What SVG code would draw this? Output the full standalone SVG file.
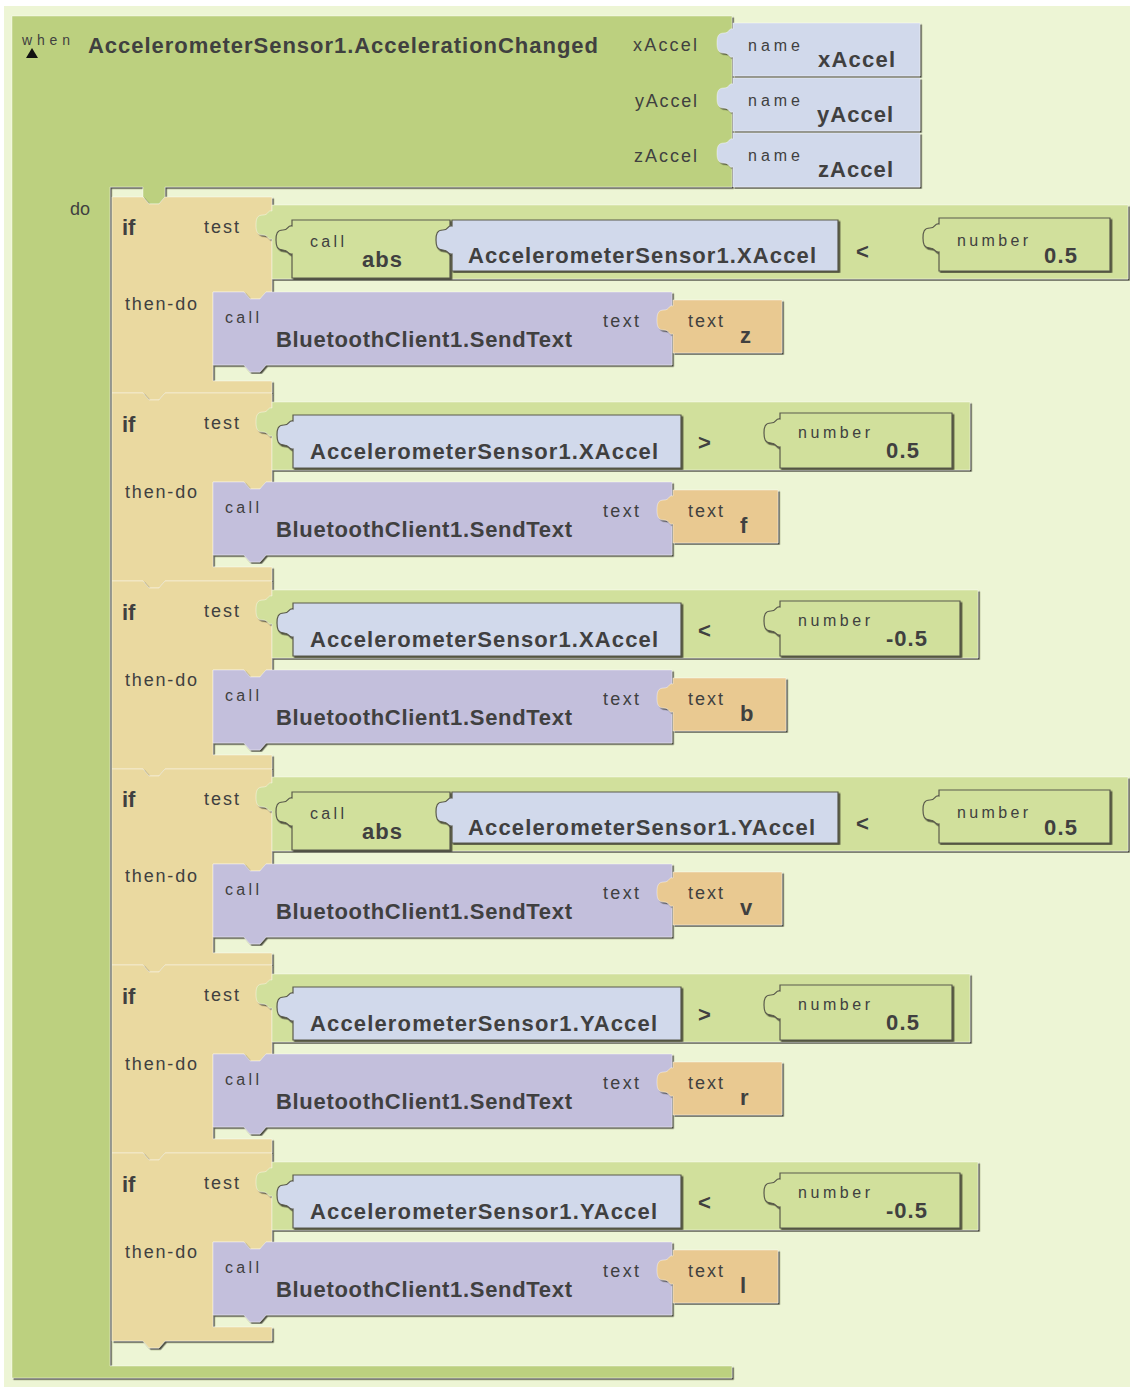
<svg xmlns="http://www.w3.org/2000/svg" width="1130" height="1387" viewBox="0 0 1130 1387">
<style>
.blk{filter:url(#sh);stroke:rgba(255,255,255,0.4);stroke-width:1}
.inr{filter:url(#sh);stroke:#5a5a4c;stroke-width:1.2}
.ev{fill:#BCD07F}.cmp{fill:#D1E09C}.tan{fill:#EAD9A0}.blue{fill:#D1D9EB}.pur{fill:#C3BFDC}.org{fill:#E9C991}
text{font-family:"Liberation Sans",Arial,sans-serif;fill:#404040}
.b{font-weight:bold;font-size:22px}
.s{font-size:16px}
.m{font-size:18px}
</style>
<defs>
<filter id="sh" x="-2%" y="-2%" width="104%" height="104%"><feDropShadow dx="1.6" dy="1.6" stdDeviation="0.4" flood-color="#2e2e26" flood-opacity="0.85"/></filter>
<path id="ifA" d="M0,0H31l6,7h10l6,-7H160V95H154l-6,7h-10l-6,-7H101V184H160V196H53l-6,7h-10l-6,-7H0z"/>
<path id="ifB" d="M0,0H31l6,7h10l6,-7H160V89H154l-6,7h-10l-6,-7H101V174H160V188H53l-6,7h-10l-6,-7H0z"/>
<path id="call" d="M0,0H31l6,7h10l6,-7H459V73H53l-6,7h-10l-6,-7H0z"/>
</defs>
<rect x="0" y="0" width="1130" height="1387" fill="#ffffff"/>
<rect x="4" y="6" width="1126" height="1381" fill="#EDF5D5"/>

<g id="event">
<path class="blk ev" d="M12,16H732V187H165v10l-6,7h-10l-6,-7v-10H110V1366H732V1378H12z"/>
<text x="22" y="45" font-size="14" textLength="48" lengthAdjust="spacing">when</text>
<polygon points="26,58 32,48 38,58" fill="#111"/>
<text class="b" x="88" y="53" textLength="510" lengthAdjust="spacing">AccelerometerSensor1.AccelerationChanged</text>
<text class="m" x="633" y="51" textLength="64" lengthAdjust="spacing">xAccel</text>
<text class="m" x="635" y="107" textLength="62" lengthAdjust="spacing">yAccel</text>
<text class="m" x="634" y="162" textLength="63" lengthAdjust="spacing">zAccel</text>
<text class="m" x="70" y="215">do</text>
</g>
<g id="name-x"><path class="blk blue" transform="translate(733,23)" d="M0,0H187V53H0V34c-5,1-3,-4-9,-4c-6,0-7,-4-7,-10c0,-6 1,-10 7,-10c6,0 4,-5 9,-4z"/>
<text class="s" x="748" y="51" textLength="52" lengthAdjust="spacing">name</text><text class="b" x="818" y="67" textLength="77" lengthAdjust="spacing">xAccel</text></g>
<g id="name-y"><path class="blk blue" transform="translate(733,78)" d="M0,0H187V53H0V34c-5,1-3,-4-9,-4c-6,0-7,-4-7,-10c0,-6 1,-10 7,-10c6,0 4,-5 9,-4z"/>
<text class="s" x="748" y="106" textLength="52" lengthAdjust="spacing">name</text><text class="b" x="817" y="122" textLength="76" lengthAdjust="spacing">yAccel</text></g>
<g id="name-z"><path class="blk blue" transform="translate(733,133)" d="M0,0H187V54H0V34c-5,1-3,-4-9,-4c-6,0-7,-4-7,-10c0,-6 1,-10 7,-10c6,0 4,-5 9,-4z"/>
<text class="s" x="748" y="161" textLength="52" lengthAdjust="spacing">name</text><text class="b" x="818" y="177" textLength="75" lengthAdjust="spacing">zAccel</text></g>

<!-- Row 1 -->
<g id="if1">
<use href="#ifA" class="blk tan" x="112" y="197"/>
<text class="b" x="122" y="235" font-size="21">if</text>
<text class="m" x="204" y="233" textLength="35" lengthAdjust="spacing">test</text>
<text class="m" x="125" y="310" textLength="72" lengthAdjust="spacing">then-do</text>
</g>
<g id="cmp1"><path class="blk cmp" transform="translate(272,205)" d="M0,0H856V74H0V34c-5,1-3,-4-9,-4c-6,0-7,-4-7,-10c0,-6 1,-10 7,-10c6,0 4,-5 9,-4z"/>
<text class="b" x="856" y="259" font-size="19">&lt;</text></g>
<g id="abs1"><path class="inr cmp" transform="translate(292,220)" d="M0,0H158V58H0V34c-5,1-3,-4-9,-4c-6,0-7,-4-7,-10c0,-6 1,-10 7,-10c6,0 4,-5 9,-4z"/>
<text class="s" x="310" y="247" textLength="34" lengthAdjust="spacing">call</text><text class="b" x="362" y="267" textLength="40" lengthAdjust="spacing">abs</text></g>
<g id="get1"><path class="inr blue" transform="translate(452,220)" d="M0,0H386V51H0V34c-5,1-3,-4-9,-4c-6,0-7,-4-7,-10c0,-6 1,-10 7,-10c6,0 4,-5 9,-4z"/>
<text class="b" x="468" y="263" textLength="348" lengthAdjust="spacing">AccelerometerSensor1.XAccel</text></g>
<g id="num1"><path class="inr cmp" transform="translate(939,218)" d="M0,0H171V53H0V34c-5,1-3,-4-9,-4c-6,0-7,-4-7,-10c0,-6 1,-10 7,-10c6,0 4,-5 9,-4z"/>
<text class="s" x="957" y="246" textLength="71" lengthAdjust="spacing">number</text><text class="b" x="1044" y="263" textLength="33" lengthAdjust="spacing">0.5</text></g>
<g id="call1"><use href="#call" class="blk pur" x="213" y="292"/>
<text class="s" x="225" y="323" textLength="34" lengthAdjust="spacing">call</text>
<text class="b" x="276" y="347" textLength="296" lengthAdjust="spacing">BluetoothClient1.SendText</text>
<text class="m" x="603" y="327" textLength="36" lengthAdjust="spacing">text</text></g>
<g id="txt1"><path class="blk org" transform="translate(673,300)" d="M0,0H109V53H0V34c-5,1-3,-4-9,-4c-6,0-7,-4-7,-10c0,-6 1,-10 7,-10c6,0 4,-5 9,-4z"/>
<text class="m" x="688" y="327" textLength="35" lengthAdjust="spacing">text</text><text class="b" x="740" y="343">z</text></g>

<!-- Row 2 -->
<g id="if2">
<use href="#ifB" class="blk tan" x="112" y="393"/>
<text class="b" x="122" y="432" font-size="21">if</text>
<text class="m" x="204" y="429" textLength="35" lengthAdjust="spacing">test</text>
<text class="m" x="125" y="498" textLength="72" lengthAdjust="spacing">then-do</text>
</g>
<g id="cmp2"><path class="blk cmp" transform="translate(272,402)" d="M0,0H698V68H0V34c-5,1-3,-4-9,-4c-6,0-7,-4-7,-10c0,-6 1,-10 7,-10c6,0 4,-5 9,-4z"/>
<text class="b" x="698" y="450" font-size="19">&gt;</text></g>
<g id="get2"><path class="inr blue" transform="translate(293,415)" d="M0,0H388V53H0V34c-5,1-3,-4-9,-4c-6,0-7,-4-7,-10c0,-6 1,-10 7,-10c6,0 4,-5 9,-4z"/>
<text class="b" x="310" y="459" textLength="348" lengthAdjust="spacing">AccelerometerSensor1.XAccel</text></g>
<g id="num2"><path class="inr cmp" transform="translate(780,413)" d="M0,0H172V55H0V34c-5,1-3,-4-9,-4c-6,0-7,-4-7,-10c0,-6 1,-10 7,-10c6,0 4,-5 9,-4z"/>
<text class="s" x="798" y="438" textLength="72" lengthAdjust="spacing">number</text><text class="b" x="886" y="458" textLength="33" lengthAdjust="spacing">0.5</text></g>
<g id="call2"><use href="#call" class="blk pur" x="213" y="482"/>
<text class="s" x="225" y="513" textLength="34" lengthAdjust="spacing">call</text>
<text class="b" x="276" y="537" textLength="296" lengthAdjust="spacing">BluetoothClient1.SendText</text>
<text class="m" x="603" y="517" textLength="36" lengthAdjust="spacing">text</text></g>
<g id="txt2"><path class="blk org" transform="translate(673,490)" d="M0,0H105V53H0V34c-5,1-3,-4-9,-4c-6,0-7,-4-7,-10c0,-6 1,-10 7,-10c6,0 4,-5 9,-4z"/>
<text class="m" x="688" y="517" textLength="35" lengthAdjust="spacing">text</text><text class="b" x="740" y="533">f</text></g>

<!-- Row 3 -->
<g id="if3">
<use href="#ifB" class="blk tan" x="112" y="581"/>
<text class="b" x="122" y="620" font-size="21">if</text>
<text class="m" x="204" y="617" textLength="35" lengthAdjust="spacing">test</text>
<text class="m" x="125" y="686" textLength="72" lengthAdjust="spacing">then-do</text>
</g>
<g id="cmp3"><path class="blk cmp" transform="translate(272,590)" d="M0,0H706V68H0V34c-5,1-3,-4-9,-4c-6,0-7,-4-7,-10c0,-6 1,-10 7,-10c6,0 4,-5 9,-4z"/>
<text class="b" x="698" y="638" font-size="19">&lt;</text></g>
<g id="get3"><path class="inr blue" transform="translate(293,603)" d="M0,0H388V53H0V34c-5,1-3,-4-9,-4c-6,0-7,-4-7,-10c0,-6 1,-10 7,-10c6,0 4,-5 9,-4z"/>
<text class="b" x="310" y="647" textLength="348" lengthAdjust="spacing">AccelerometerSensor1.XAccel</text></g>
<g id="num3"><path class="inr cmp" transform="translate(780,601)" d="M0,0H180V55H0V34c-5,1-3,-4-9,-4c-6,0-7,-4-7,-10c0,-6 1,-10 7,-10c6,0 4,-5 9,-4z"/>
<text class="s" x="798" y="626" textLength="72" lengthAdjust="spacing">number</text><text class="b" x="886" y="646" textLength="41" lengthAdjust="spacing">-0.5</text></g>
<g id="call3"><use href="#call" class="blk pur" x="213" y="670"/>
<text class="s" x="225" y="701" textLength="34" lengthAdjust="spacing">call</text>
<text class="b" x="276" y="725" textLength="296" lengthAdjust="spacing">BluetoothClient1.SendText</text>
<text class="m" x="603" y="705" textLength="36" lengthAdjust="spacing">text</text></g>
<g id="txt3"><path class="blk org" transform="translate(673,678)" d="M0,0H113V53H0V34c-5,1-3,-4-9,-4c-6,0-7,-4-7,-10c0,-6 1,-10 7,-10c6,0 4,-5 9,-4z"/>
<text class="m" x="688" y="705" textLength="35" lengthAdjust="spacing">text</text><text class="b" x="740" y="721">b</text></g>

<!-- Row 4 -->
<g id="if4">
<use href="#ifA" class="blk tan" x="112" y="769"/>
<text class="b" x="122" y="807" font-size="21">if</text>
<text class="m" x="204" y="805" textLength="35" lengthAdjust="spacing">test</text>
<text class="m" x="125" y="882" textLength="72" lengthAdjust="spacing">then-do</text>
</g>
<g id="cmp4"><path class="blk cmp" transform="translate(272,777)" d="M0,0H856V74H0V34c-5,1-3,-4-9,-4c-6,0-7,-4-7,-10c0,-6 1,-10 7,-10c6,0 4,-5 9,-4z"/>
<text class="b" x="856" y="831" font-size="19">&lt;</text></g>
<g id="abs4"><path class="inr cmp" transform="translate(292,792)" d="M0,0H158V58H0V34c-5,1-3,-4-9,-4c-6,0-7,-4-7,-10c0,-6 1,-10 7,-10c6,0 4,-5 9,-4z"/>
<text class="s" x="310" y="819" textLength="34" lengthAdjust="spacing">call</text><text class="b" x="362" y="839" textLength="40" lengthAdjust="spacing">abs</text></g>
<g id="get4"><path class="inr blue" transform="translate(452,792)" d="M0,0H386V51H0V34c-5,1-3,-4-9,-4c-6,0-7,-4-7,-10c0,-6 1,-10 7,-10c6,0 4,-5 9,-4z"/>
<text class="b" x="468" y="835" textLength="347" lengthAdjust="spacing">AccelerometerSensor1.YAccel</text></g>
<g id="num4"><path class="inr cmp" transform="translate(939,790)" d="M0,0H171V53H0V34c-5,1-3,-4-9,-4c-6,0-7,-4-7,-10c0,-6 1,-10 7,-10c6,0 4,-5 9,-4z"/>
<text class="s" x="957" y="818" textLength="71" lengthAdjust="spacing">number</text><text class="b" x="1044" y="835" textLength="33" lengthAdjust="spacing">0.5</text></g>
<g id="call4"><use href="#call" class="blk pur" x="213" y="864"/>
<text class="s" x="225" y="895" textLength="34" lengthAdjust="spacing">call</text>
<text class="b" x="276" y="919" textLength="296" lengthAdjust="spacing">BluetoothClient1.SendText</text>
<text class="m" x="603" y="899" textLength="36" lengthAdjust="spacing">text</text></g>
<g id="txt4"><path class="blk org" transform="translate(673,872)" d="M0,0H109V53H0V34c-5,1-3,-4-9,-4c-6,0-7,-4-7,-10c0,-6 1,-10 7,-10c6,0 4,-5 9,-4z"/>
<text class="m" x="688" y="899" textLength="35" lengthAdjust="spacing">text</text><text class="b" x="740" y="915">v</text></g>

<!-- Row 5 -->
<g id="if5">
<use href="#ifB" class="blk tan" x="112" y="965"/>
<text class="b" x="122" y="1004" font-size="21">if</text>
<text class="m" x="204" y="1001" textLength="35" lengthAdjust="spacing">test</text>
<text class="m" x="125" y="1070" textLength="72" lengthAdjust="spacing">then-do</text>
</g>
<g id="cmp5"><path class="blk cmp" transform="translate(272,974)" d="M0,0H698V68H0V34c-5,1-3,-4-9,-4c-6,0-7,-4-7,-10c0,-6 1,-10 7,-10c6,0 4,-5 9,-4z"/>
<text class="b" x="698" y="1022" font-size="19">&gt;</text></g>
<g id="get5"><path class="inr blue" transform="translate(293,987)" d="M0,0H388V53H0V34c-5,1-3,-4-9,-4c-6,0-7,-4-7,-10c0,-6 1,-10 7,-10c6,0 4,-5 9,-4z"/>
<text class="b" x="310" y="1031" textLength="347" lengthAdjust="spacing">AccelerometerSensor1.YAccel</text></g>
<g id="num5"><path class="inr cmp" transform="translate(780,985)" d="M0,0H172V55H0V34c-5,1-3,-4-9,-4c-6,0-7,-4-7,-10c0,-6 1,-10 7,-10c6,0 4,-5 9,-4z"/>
<text class="s" x="798" y="1010" textLength="72" lengthAdjust="spacing">number</text><text class="b" x="886" y="1030" textLength="33" lengthAdjust="spacing">0.5</text></g>
<g id="call5"><use href="#call" class="blk pur" x="213" y="1054"/>
<text class="s" x="225" y="1085" textLength="34" lengthAdjust="spacing">call</text>
<text class="b" x="276" y="1109" textLength="296" lengthAdjust="spacing">BluetoothClient1.SendText</text>
<text class="m" x="603" y="1089" textLength="36" lengthAdjust="spacing">text</text></g>
<g id="txt5"><path class="blk org" transform="translate(673,1062)" d="M0,0H109V53H0V34c-5,1-3,-4-9,-4c-6,0-7,-4-7,-10c0,-6 1,-10 7,-10c6,0 4,-5 9,-4z"/>
<text class="m" x="688" y="1089" textLength="35" lengthAdjust="spacing">text</text><text class="b" x="740" y="1105">r</text></g>

<!-- Row 6 -->
<g id="if6">
<use href="#ifB" class="blk tan" x="112" y="1153"/>
<text class="b" x="122" y="1192" font-size="21">if</text>
<text class="m" x="204" y="1189" textLength="35" lengthAdjust="spacing">test</text>
<text class="m" x="125" y="1258" textLength="72" lengthAdjust="spacing">then-do</text>
</g>
<g id="cmp6"><path class="blk cmp" transform="translate(272,1162)" d="M0,0H706V68H0V34c-5,1-3,-4-9,-4c-6,0-7,-4-7,-10c0,-6 1,-10 7,-10c6,0 4,-5 9,-4z"/>
<text class="b" x="698" y="1210" font-size="19">&lt;</text></g>
<g id="get6"><path class="inr blue" transform="translate(293,1175)" d="M0,0H388V53H0V34c-5,1-3,-4-9,-4c-6,0-7,-4-7,-10c0,-6 1,-10 7,-10c6,0 4,-5 9,-4z"/>
<text class="b" x="310" y="1219" textLength="347" lengthAdjust="spacing">AccelerometerSensor1.YAccel</text></g>
<g id="num6"><path class="inr cmp" transform="translate(780,1173)" d="M0,0H180V55H0V34c-5,1-3,-4-9,-4c-6,0-7,-4-7,-10c0,-6 1,-10 7,-10c6,0 4,-5 9,-4z"/>
<text class="s" x="798" y="1198" textLength="72" lengthAdjust="spacing">number</text><text class="b" x="886" y="1218" textLength="41" lengthAdjust="spacing">-0.5</text></g>
<g id="call6"><use href="#call" class="blk pur" x="213" y="1242"/>
<text class="s" x="225" y="1273" textLength="34" lengthAdjust="spacing">call</text>
<text class="b" x="276" y="1297" textLength="296" lengthAdjust="spacing">BluetoothClient1.SendText</text>
<text class="m" x="603" y="1277" textLength="36" lengthAdjust="spacing">text</text></g>
<g id="txt6"><path class="blk org" transform="translate(673,1250)" d="M0,0H105V53H0V34c-5,1-3,-4-9,-4c-6,0-7,-4-7,-10c0,-6 1,-10 7,-10c6,0 4,-5 9,-4z"/>
<text class="m" x="688" y="1277" textLength="35" lengthAdjust="spacing">text</text><text class="b" x="740" y="1293">l</text></g>

<g id="connectors"></g>
</svg>
